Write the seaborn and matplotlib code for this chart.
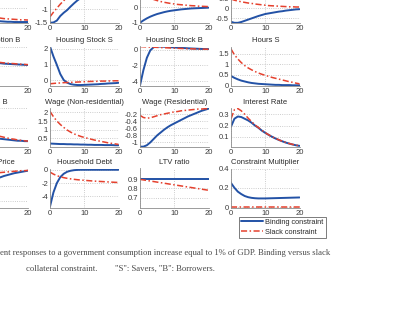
import pandas as pd
import seaborn as sns
import matplotlib.pyplot as plt
from matplotlib.lines import Line2D
from matplotlib.ticker import FormatStrFormatter

# Горизонт импульсных откликов
horizon = list(range(21))
cases = ['Binding constraint', 'Slack constraint']

# Ряд 1 (заголовки обрезаны в оригинале)
r1a_bind = [0.6, 0.3, 0.1, -0.05, -0.15, -0.25, -0.32, -0.38, -0.42, -0.46, -0.49,
            -0.51, -0.53, -0.54, -0.55, -0.55, -0.56, -0.56, -0.56, -0.56, -0.56]
r1a_slack = [0.9, 0.6, 0.35, 0.15, 0.0, -0.1, -0.18, -0.24, -0.29, -0.33, -0.36,
             -0.38, -0.4, -0.42, -0.43, -0.44, -0.45, -0.46, -0.47, -0.47, -0.48]
r1b_bind = [-1.5, -1.49, -1.42, -1.25, -1.13, -1.03, -0.9, -0.78, -0.67, -0.58, -0.5,
            -0.44, -0.38, -0.33, -0.29, -0.25, -0.22, -0.19, -0.17, -0.15, -0.13]
r1b_slack = [-1.28, -1.11, -0.96, -0.81, -0.68, -0.57, -0.48, -0.41, -0.35, -0.3, -0.26,
             -0.23, -0.2, -0.18, -0.16, -0.15, -0.13, -0.12, -0.11, -0.1, -0.1]
r1c_bind = [-1.0, -0.85, -0.72, -0.61, -0.52, -0.44, -0.38, -0.32, -0.27, -0.23, -0.2,
            -0.17, -0.14, -0.12, -0.1, -0.08, -0.07, -0.06, -0.05, -0.04, -0.03]
r1c_slack = [0.88, 0.77, 0.67, 0.58, 0.5, 0.43, 0.37, 0.32, 0.28, 0.24, 0.21,
             0.18, 0.16, 0.14, 0.12, 0.1, 0.09, 0.07, 0.06, 0.05, 0.04]
r1d_bind = [-0.68, -0.73, -0.73, -0.69, -0.63, -0.57, -0.51, -0.45, -0.39, -0.34, -0.29,
            -0.26, -0.23, -0.2, -0.17, -0.15, -0.12, -0.1, -0.08, -0.06, -0.05]
r1d_slack = [0.46, 0.4, 0.36, 0.32, 0.29, 0.26, 0.24, 0.21, 0.19, 0.17, 0.15,
             0.13, 0.12, 0.11, 0.1, 0.09, 0.08, 0.07, 0.07, 0.06, 0.06]

# Ряд 2
cons_b_bind = [0.7, 0.6, 0.52, 0.45, 0.39, 0.34, 0.3, 0.26, 0.23, 0.2, 0.18,
               0.16, 0.14, 0.12, 0.11, 0.1, 0.09, 0.08, 0.07, 0.06, 0.05]
cons_b_slack = [0.9, 0.78, 0.67, 0.58, 0.5, 0.44, 0.38, 0.34, 0.3, 0.26, 0.23,
                0.2, 0.18, 0.16, 0.14, 0.13, 0.12, 0.1, 0.09, 0.08, 0.07]
hstock_s_bind = [2.15, 1.52, 0.98, 0.4, 0.02, -0.15, -0.24, -0.28, -0.3, -0.3, -0.29,
                 -0.28, -0.27, -0.26, -0.25, -0.23, -0.22, -0.2, -0.19, -0.18, -0.16]
hstock_s_slack = [-0.22, -0.2, -0.18, -0.17, -0.15, -0.14, -0.13, -0.12, -0.11, -0.1, -0.09,
                  -0.08, -0.07, -0.07, -0.06, -0.05, -0.05, -0.04, -0.04, -0.03, -0.03]
hstock_b_bind = [-4.55, -2.6, -1.05, -0.1, 0.3, 0.38, 0.38, 0.36, 0.33, 0.3, 0.27,
                 0.24, 0.21, 0.19, 0.16, 0.14, 0.12, 0.1, 0.08, 0.07, 0.06]
hstock_b_slack = [0.38, 0.36, 0.34, 0.32, 0.3, 0.28, 0.26, 0.24, 0.22, 0.2, 0.18,
                  0.16, 0.14, 0.13, 0.11, 0.1, 0.08, 0.07, 0.06, 0.05, 0.04]
hours_s_bind = [0.45, 0.36, 0.29, 0.23, 0.19, 0.15, 0.12, 0.1, 0.08, 0.07, 0.06,
                0.05, 0.04, 0.03, 0.03, 0.02, 0.02, 0.02, 0.01, 0.01, 0.01]
hours_s_slack = [1.72, 1.45, 1.25, 1.08, 0.94, 0.83, 0.74, 0.66, 0.59, 0.53, 0.48,
                 0.43, 0.38, 0.34, 0.3, 0.26, 0.22, 0.18, 0.15, 0.11, 0.08]

# Ряд 3
hours_b_bind = [0.7, 0.6, 0.52, 0.46, 0.41, 0.37, 0.33, 0.3, 0.28, 0.26, 0.24,
                0.22, 0.21, 0.2, 0.19, 0.18, 0.17, 0.16, 0.16, 0.15, 0.15]
hours_b_slack = [0.95, 0.82, 0.72, 0.63, 0.56, 0.5, 0.45, 0.41, 0.37, 0.34, 0.31,
                 0.29, 0.27, 0.25, 0.23, 0.21, 0.2, 0.18, 0.17, 0.16, 0.15]
wage_nr_bind = [0.2, 0.19, 0.18, 0.17, 0.17, 0.16, 0.16, 0.15, 0.15, 0.14, 0.14,
                0.13, 0.13, 0.12, 0.12, 0.12, 0.11, 0.11, 0.11, 0.1, 0.1]
wage_nr_slack = [2.05, 1.75, 1.5, 1.3, 1.13, 0.98, 0.86, 0.76, 0.68, 0.61, 0.55,
                 0.5, 0.45, 0.4, 0.36, 0.32, 0.28, 0.24, 0.21, 0.18, 0.15]
wage_r_bind = [-1.12, -1.12, -1.08, -1.0, -0.9, -0.8, -0.72, -0.64, -0.57, -0.51, -0.46,
               -0.41, -0.36, -0.31, -0.26, -0.22, -0.18, -0.14, -0.1, -0.07, -0.04]
wage_r_slack = [-0.23, -0.29, -0.31, -0.3, -0.27, -0.24, -0.21, -0.19, -0.17, -0.15, -0.13,
                -0.12, -0.1, -0.09, -0.08, -0.07, -0.06, -0.05, -0.05, -0.04, -0.04]
rate_bind = [0.19, 0.26, 0.28, 0.275, 0.26, 0.245, 0.225, 0.2, 0.18, 0.155, 0.135,
             0.117, 0.1, 0.085, 0.072, 0.06, 0.049, 0.04, 0.032, 0.025, 0.02]
rate_slack = [0.26, 0.34, 0.35, 0.33, 0.3, 0.265, 0.235, 0.205, 0.182, 0.158, 0.137,
              0.118, 0.101, 0.086, 0.073, 0.061, 0.05, 0.041, 0.033, 0.026, 0.021]

# Ряд 4
hprice_bind = [-1.15, -1.0, -0.88, -0.78, -0.69, -0.61, -0.54, -0.48, -0.42, -0.36, -0.31,
               -0.27, -0.23, -0.19, -0.16, -0.13, -0.1, -0.08, -0.06, -0.04, -0.02]
hprice_slack = [-0.5, -0.42, -0.36, -0.31, -0.27, -0.23, -0.2, -0.18, -0.15, -0.13, -0.11,
                -0.09, -0.08, -0.07, -0.06, -0.05, -0.04, -0.03, -0.02, -0.02, -0.01]
debt_bind = [-5.5, -3.4, -2.0, -1.1, -0.6, -0.3, -0.15, -0.06, -0.02, 0.0, 0.0,
             0.0, 0.0, 0.0, 0.0, 0.0, 0.0, 0.0, 0.0, 0.0, 0.0]
debt_slack = [-0.35, -0.65, -0.88, -1.05, -1.18, -1.28, -1.36, -1.43, -1.49, -1.54, -1.58,
              -1.62, -1.66, -1.7, -1.73, -1.76, -1.79, -1.82, -1.85, -1.88, -1.9]
ltv_bind = [0.9, 0.9, 0.9, 0.9, 0.9, 0.9, 0.9, 0.9, 0.9, 0.9, 0.9,
            0.9, 0.9, 0.9, 0.9, 0.9, 0.9, 0.9, 0.9, 0.9, 0.9]
ltv_slack = [0.9, 0.894, 0.888, 0.882, 0.876, 0.87, 0.864, 0.858, 0.852, 0.846, 0.84,
             0.834, 0.828, 0.822, 0.816, 0.81, 0.804, 0.798, 0.792, 0.786, 0.78]
mult_bind = [0.25, 0.2, 0.16, 0.135, 0.115, 0.103, 0.096, 0.092, 0.09, 0.09, 0.09,
             0.091, 0.092, 0.093, 0.094, 0.095, 0.096, 0.097, 0.098, 0.099, 0.1]
mult_slack = [0.0, 0.0, 0.0, 0.0, 0.0, 0.0, 0.0, 0.0, 0.0, 0.0, 0.0,
              0.0, 0.0, 0.0, 0.0, 0.0, 0.0, 0.0, 0.0, 0.0, 0.0]

# (ряд, столбец, заголовок, binding, slack, ylim, yticks)
panels = [
    (0, 0, '', r1a_bind, r1a_slack, (-0.6, 1.0), [-0.5, 0, 0.5]),
    (0, 1, '', r1b_bind, r1b_slack, (-1.51, -0.06), [-1.5, -1, -0.5]),
    (0, 2, '', r1c_bind, r1c_slack, (-1.02, 1.5), [-1, 0, 1]),
    (0, 3, '', r1d_bind, r1d_slack, (-0.74, 1.21), [-0.5, 0, 0.5, 1]),
    (1, 0, 'Consumption B', cons_b_bind, cons_b_slack, (-1, 1), [-1, 0, 1]),
    (1, 1, 'Housing Stock S', hstock_s_bind, hstock_s_slack, (-0.33, 2.15), [0, 1, 2]),
    (1, 2, 'Housing Stock B', hstock_b_bind, hstock_b_slack, (-4.56, 0.39), [-4, -2, 0]),
    (1, 3, 'Hours S', hours_s_bind, hours_s_slack, (0, 1.84), [0, 0.5, 1, 1.5]),
    (2, 0, 'Hours B', hours_b_bind, hours_b_slack, (0, 1), [0, 0.5, 1]),
    (2, 1, 'Wage (Non-residential)', wage_nr_bind, wage_nr_slack, (0, 2.25), [0.5, 1, 1.5, 2]),
    (2, 2, 'Wage (Residential)', wage_r_bind, wage_r_slack, (-1.13, -0.02), [-1, -0.8, -0.6, -0.4, -0.2]),
    (2, 3, 'Interest Rate', rate_bind, rate_slack, (0.01, 0.355), [0.1, 0.2, 0.3]),
    (3, 0, 'House Price', hprice_bind, hprice_slack, (-1.2, 0.05), [-1, -0.5, 0]),
    (3, 1, 'Household Debt', debt_bind, debt_slack, (-5.65, 0.19), [-4, -2, 0]),
    (3, 2, 'LTV ratio', ltv_bind, ltv_slack, (0.59, 1.02), [0.7, 0.8, 0.9]),
    (3, 3, 'Constraint Multiplier', mult_bind, mult_slack, (-0.004, 0.4), [0, 0.2, 0.4]),
]

sns.set_style('white')
plt.rcParams['font.family'] = ['Liberation Sans', 'DejaVu Sans']

W, H = 415, 322
fig = plt.figure(figsize=(W / 100, H / 100), dpi=100)

col_left = [-40.5, 50, 140, 231]
row_top = [-16, 46.5, 108, 168.5]
ax_w, ax_h = 68.5, 39

blue = '#2352a6'
red = '#e5412e'
palette = {cases[0]: blue, cases[1]: red}
dashes = {cases[0]: '', cases[1]: (4, 1.6, 1, 1.6)}

for r, c, title, bind, slack, ylim, yticks in panels:
    ax = fig.add_axes([col_left[c] / W, 1 - (row_top[r] + ax_h) / H, ax_w / W, ax_h / H])
    df = pd.DataFrame({
        'h': horizon + horizon,
        'value': bind + slack,
        'case': [cases[0]] * len(bind) + [cases[1]] * len(slack),
    })
    sns.lineplot(data=df, x='h', y='value', hue='case', style='case',
                 palette=palette, dashes=dashes, hue_order=cases, style_order=cases,
                 legend=False, ax=ax)
    for line, lw in zip(ax.get_lines(), [1.4, 1.1]):
        line.set_linewidth(lw)
    ax.set_xlim(0, 20)
    ax.set_ylim(*ylim)
    ax.set_xticks([0, 10, 20])
    ax.set_yticks(yticks)
    ax.yaxis.set_major_formatter(FormatStrFormatter('%g'))
    ax.set_xlabel('')
    ax.set_ylabel('')
    ax.grid(True, linestyle=':', linewidth=0.6, color='#bdbdbd')
    for side in ['top', 'right']:
        ax.spines[side].set_visible(False)
    for side in ['left', 'bottom']:
        ax.spines[side].set_color('#8c8c8c')
        ax.spines[side].set_linewidth(0.6)
    ax.tick_params(labelsize=5.5, colors='#3a3a3a', length=2, width=0.5,
                   direction='in', pad=1.5)
    if title:
        ax.set_title(title, fontsize=5.5, color='#2a2a2a', pad=3)

handles = [Line2D([], [], color=blue, linewidth=1.4),
           Line2D([], [], color=red, linewidth=1.1, dashes=(4, 1.6, 1, 1.6))]
leg = fig.legend(handles, cases, loc='upper left',
                 bbox_to_anchor=(239 / W, 1 - 216.5 / H), borderaxespad=0,
                 fontsize=5.3, frameon=True, fancybox=False, handlelength=3.0,
                 handletextpad=0.25, borderpad=0.3, labelspacing=0.4)
leg.get_frame().set_edgecolor('#404040')
leg.get_frame().set_linewidth(0.6)
for t in leg.get_texts():
    t.set_color('#2a2a2a')

# Подпись под рисунком
cap = dict(family=['Liberation Serif', 'DejaVu Serif'], fontsize=6.2, color='#4a4a4a', va='center')
fig.text(0 / W, 1 - 253 / H,
         'ent responses to a government consumption increase equal to 1% of GDP. Binding versus slack',
         ha='left', **cap)
fig.text(26 / W, 1 - 269 / H, 'collateral constraint.', ha='left', **cap)
fig.text(115 / W, 1 - 269 / H, '"S": Savers, "B": Borrowers.', ha='left', **cap)

plt.savefig('out.png', dpi=100)
